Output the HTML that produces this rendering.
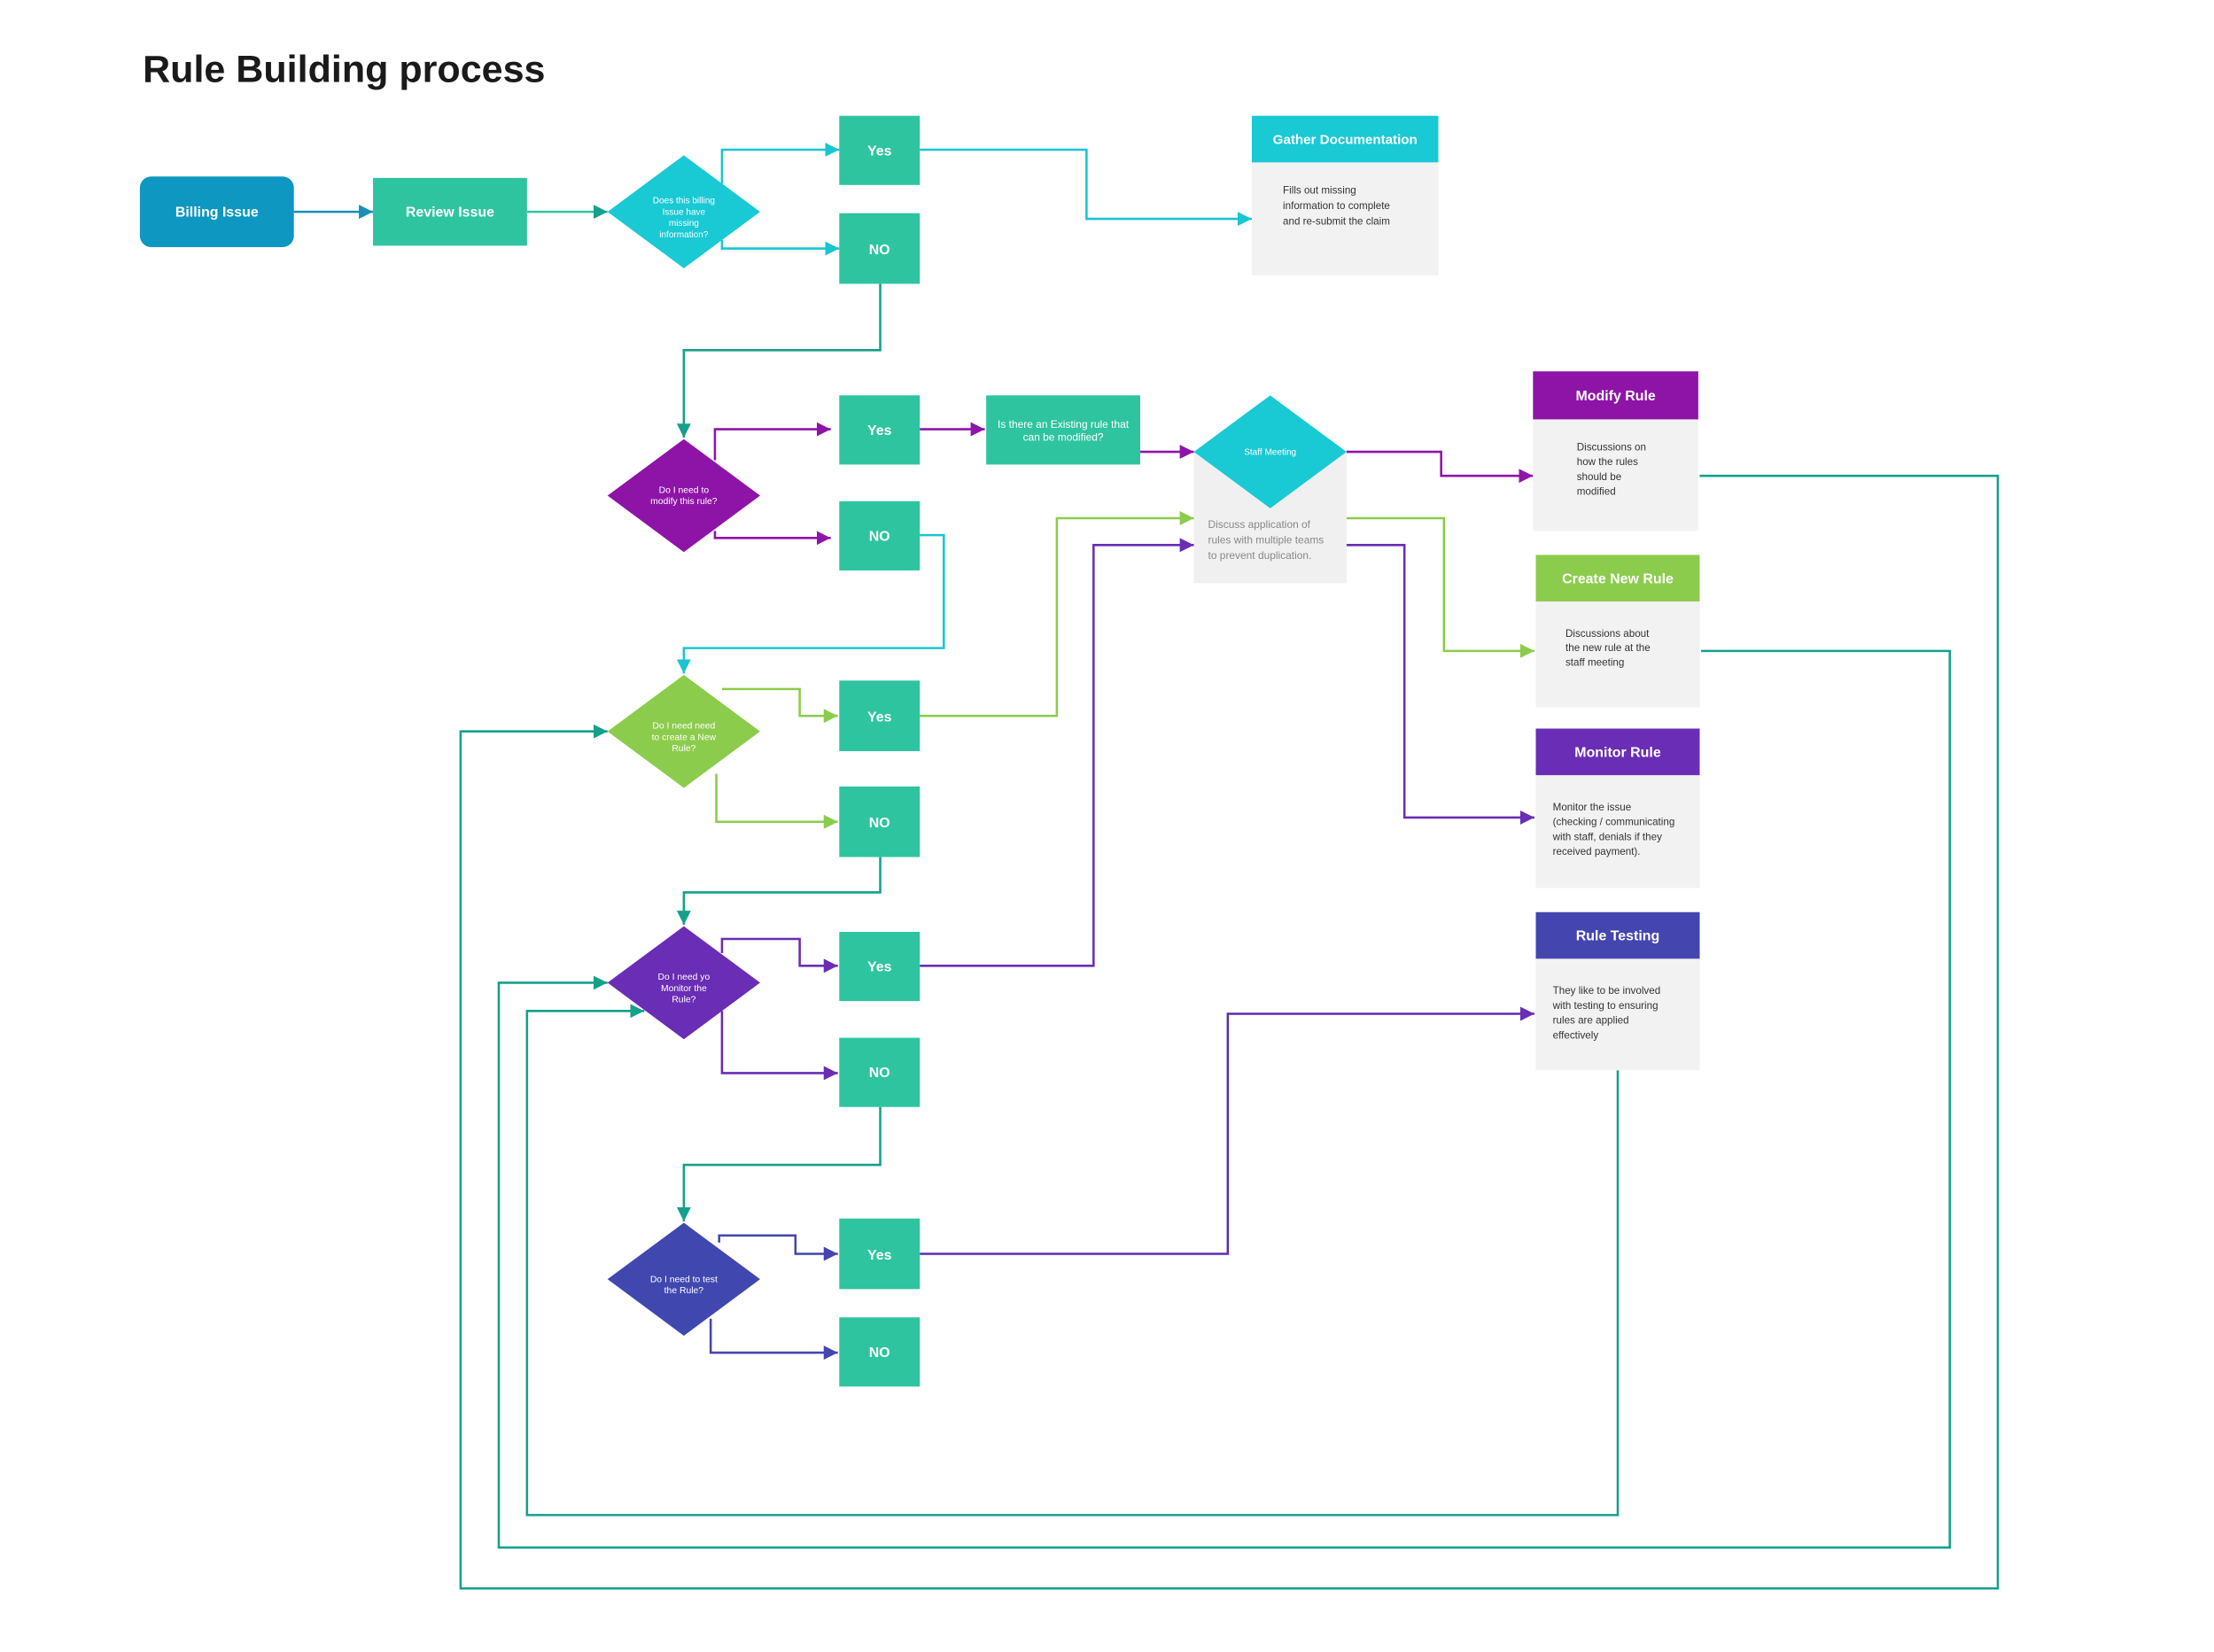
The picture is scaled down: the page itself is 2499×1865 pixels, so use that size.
<!DOCTYPE html>
<html><head><meta charset="utf-8"><style>
html,body{margin:0;padding:0;background:#fff;}
svg{display:block;}
text{font-family:"Liberation Sans",sans-serif;}
</style></head><body>
<svg width="2499" height="1865" viewBox="0 0 1567 1170" preserveAspectRatio="none" xmlns="http://www.w3.org/2000/svg">
<defs>
<marker id="mcy" viewBox="0 0 10 10" refX="10" refY="5" markerWidth="10" markerHeight="11" markerUnits="userSpaceOnUse" orient="auto"><path d="M0,0L10,5L0,10z" fill="#19c5d0"/></marker>
<marker id="mte" viewBox="0 0 10 10" refX="10" refY="5" markerWidth="10" markerHeight="11" markerUnits="userSpaceOnUse" orient="auto"><path d="M0,0L10,5L0,10z" fill="#14a08a"/></marker>
<marker id="mpu" viewBox="0 0 10 10" refX="10" refY="5" markerWidth="10" markerHeight="11" markerUnits="userSpaceOnUse" orient="auto"><path d="M0,0L10,5L0,10z" fill="#8e14a8"/></marker>
<marker id="mgr" viewBox="0 0 10 10" refX="10" refY="5" markerWidth="10" markerHeight="11" markerUnits="userSpaceOnUse" orient="auto"><path d="M0,0L10,5L0,10z" fill="#8ccc4c"/></marker>
<marker id="mvi" viewBox="0 0 10 10" refX="10" refY="5" markerWidth="10" markerHeight="11" markerUnits="userSpaceOnUse" orient="auto"><path d="M0,0L10,5L0,10z" fill="#6a2db5"/></marker>
<marker id="min" viewBox="0 0 10 10" refX="10" refY="5" markerWidth="10" markerHeight="11" markerUnits="userSpaceOnUse" orient="auto"><path d="M0,0L10,5L0,10z" fill="#4545b0"/></marker>
<marker id="mbl" viewBox="0 0 10 10" refX="10" refY="5" markerWidth="10" markerHeight="11" markerUnits="userSpaceOnUse" orient="auto"><path d="M0,0L10,5L0,10z" fill="#1a8fb5"/></marker>
</defs>

<text x="101" y="58" font-size="27" font-weight="bold" fill="#1a1a1a">Rule Building process</text>

<g fill="none" stroke-width="1.6">
<polyline points="208,150 264,150" stroke="#1a8fb5" marker-end="url(#mbl)"/>
<polyline points="373,150 430,150" stroke="#2ec4a0" marker-end="url(#mte)"/>
<polyline points="511,130 511,106 594,106" stroke="#19c5d0" marker-end="url(#mcy)"/>
<polyline points="511,170 511,176 594,176" stroke="#19c5d0" marker-end="url(#mcy)"/>
<polyline points="651,106 769,106 769,155 886,155" stroke="#19c5d0" marker-end="url(#mcy)"/>
<polyline points="623,201 623,248 484,248 484,310" stroke="#14a08a" marker-end="url(#mte)"/>
<polyline points="506,326 506,304 588,304" stroke="#8e14a8" marker-end="url(#mpu)"/>
<polyline points="506,376 506,381 588,381" stroke="#8e14a8" marker-end="url(#mpu)"/>
<polyline points="651,304 697,304" stroke="#8e14a8" marker-end="url(#mpu)"/>
<polyline points="807,320 845,320" stroke="#8e14a8" marker-end="url(#mpu)"/>
<polyline points="953,320 1020,320 1020,337 1085,337" stroke="#8e14a8" marker-end="url(#mpu)"/>
<polyline points="953,367 1022,367 1022,461 1086,461" stroke="#8ccc4c" marker-end="url(#mgr)"/>
<polyline points="953,386 994,386 994,579 1086,579" stroke="#6a2db5" marker-end="url(#mvi)"/>
<polyline points="651,379 668,379 668,459 484,459 484,477" stroke="#19c5d0" marker-end="url(#mcy)"/>
<polyline points="511,488 566,488 566,507 593,507" stroke="#8ccc4c" marker-end="url(#mgr)"/>
<polyline points="507,548 507,582 593,582" stroke="#8ccc4c" marker-end="url(#mgr)"/>
<polyline points="651,507 748,507 748,367 845,367" stroke="#8ccc4c" marker-end="url(#mgr)"/>
<polyline points="623,607 623,632 484,632 484,655" stroke="#14a08a" marker-end="url(#mte)"/>
<polyline points="511,675 511,665 566,665 566,684 593,684" stroke="#6a2db5" marker-end="url(#mvi)"/>
<polyline points="511,716 511,760 593,760" stroke="#6a2db5" marker-end="url(#mvi)"/>
<polyline points="651,684 774,684 774,386 845,386" stroke="#6a2db5" marker-end="url(#mvi)"/>
<polyline points="623,784 623,825 484,825 484,865" stroke="#14a08a" marker-end="url(#mte)"/>
<polyline points="509,880 509,875 563,875 563,888 593,888" stroke="#4545b0" marker-end="url(#min)"/>
<polyline points="503,934 503,958 593,958" stroke="#4545b0" marker-end="url(#min)"/>
<polyline points="651,888 869,888 869,718 1086,718" stroke="#5a2db0" marker-end="url(#mvi)"/>
<polyline points="1203,337 1414,337 1414,1125 326,1125 326,518 430,518" stroke="#14a08a" marker-end="url(#mte)"/>
<polyline points="1204,461 1380,461 1380,1096 353,1096 353,696 430,696" stroke="#14a08a" marker-end="url(#mte)"/>
<polyline points="1145,758 1145,1073 373,1073 373,716 456,716" stroke="#14a08a" marker-end="url(#mte)"/>
</g>

<rect x="99" y="125" width="109" height="50" rx="8" fill="#0e97c0"/>
<text x="153.5" y="153.5" font-size="10" font-weight="bold" fill="#fff" text-anchor="middle">Billing Issue</text>
<rect x="264" y="126" width="109" height="48" fill="#2ec4a0"/>
<text x="318.5" y="153.5" font-size="10" font-weight="bold" fill="#fff" text-anchor="middle">Review Issue</text>

<polygon points="484,110 538,150 484,190 430,150" fill="#19c9d4"/>
<g font-size="6.3" fill="#fff" text-anchor="middle"><text x="484" y="144">Does this billing</text><text x="484" y="152">Issue have</text><text x="484" y="160">missing</text><text x="484" y="168">information?</text></g>

<g fill="#2ec4a0">
<rect x="594" y="82" width="57" height="49"/><rect x="594" y="151" width="57" height="50"/>
<rect x="594" y="280" width="57" height="49"/><rect x="594" y="355" width="57" height="49"/>
<rect x="594" y="482" width="57" height="50"/><rect x="594" y="557" width="57" height="50"/>
<rect x="594" y="660" width="57" height="49"/><rect x="594" y="735" width="57" height="49"/>
<rect x="594" y="863" width="57" height="50"/><rect x="594" y="933" width="57" height="49"/>
<rect x="698" y="280" width="109" height="49"/>
</g>
<g font-size="10" font-weight="bold" fill="#fff" text-anchor="middle">
<text x="622.5" y="110">Yes</text><text x="622.5" y="180">NO</text>
<text x="622.5" y="308">Yes</text><text x="622.5" y="383">NO</text>
<text x="622.5" y="511">Yes</text><text x="622.5" y="586">NO</text>
<text x="622.5" y="688">Yes</text><text x="622.5" y="763">NO</text>
<text x="622.5" y="892">Yes</text><text x="622.5" y="961">NO</text>
</g>
<g font-size="7.5" fill="#fff" text-anchor="middle"><text x="752.5" y="303">Is there an Existing rule that</text><text x="752.5" y="312">can be modified?</text></g>

<rect x="886" y="115" width="132" height="80" fill="#f2f2f2"/>
<rect x="886" y="82" width="132" height="33" fill="#19c9d4"/>
<text x="952" y="102" font-size="9.5" font-weight="bold" fill="#fff" text-anchor="middle">Gather Documentation</text>
<g font-size="7.3" fill="#333"><text x="908" y="137">Fills out missing</text><text x="908" y="148">information to complete</text><text x="908" y="159">and re-submit the claim</text></g>

<polygon points="484,311 538,351 484,391 430,351" fill="#8e14a8"/>
<g font-size="6.5" fill="#fff" text-anchor="middle"><text x="484" y="349">Do I need to</text><text x="484" y="357">modify this rule?</text></g>

<rect x="845" y="320" width="108" height="93" fill="#f0f0f0"/>
<polygon points="899,280 953,320 899,360 845,320" fill="#19c9d4"/>
<text x="899" y="322" font-size="6.3" fill="#fff" text-anchor="middle">Staff Meeting</text>
<g font-size="7.5" fill="#888"><text x="855" y="374">Discuss application of</text><text x="855" y="385">rules with multiple teams</text><text x="855" y="396">to prevent duplication.</text></g>

<polygon points="484,478 538,518 484,558 430,518" fill="#8ccc4c"/>
<g font-size="6.5" fill="#fff" text-anchor="middle"><text x="484" y="516">Do I need need</text><text x="484" y="524">to create a New</text><text x="484" y="532">Rule?</text></g>
<polygon points="484,656 538,696 484,736 430,696" fill="#6a2db5"/>
<g font-size="6.5" fill="#fff" text-anchor="middle"><text x="484" y="694">Do I need yo</text><text x="484" y="702">Monitor the</text><text x="484" y="710">Rule?</text></g>
<polygon points="484,866 538,906 484,946 430,906" fill="#4048b0"/>
<g font-size="6.5" fill="#fff" text-anchor="middle"><text x="484" y="908">Do I need to test</text><text x="484" y="916">the Rule?</text></g>

<rect x="1085" y="297" width="117" height="79" fill="#f2f2f2"/>
<rect x="1085" y="263" width="117" height="34" fill="#8e14a8"/>
<text x="1143.5" y="283.5" font-size="10" font-weight="bold" fill="#fff" text-anchor="middle">Modify Rule</text>
<g font-size="7.3" fill="#333"><text x="1116" y="319">Discussions on</text><text x="1116" y="329.5">how the rules</text><text x="1116" y="340">should be</text><text x="1116" y="350.5">modified</text></g>

<rect x="1087" y="426" width="116" height="75" fill="#f2f2f2"/>
<rect x="1087" y="393" width="116" height="33" fill="#8ccc4c"/>
<text x="1145" y="413" font-size="10" font-weight="bold" fill="#fff" text-anchor="middle">Create New Rule</text>
<g font-size="7.3" fill="#333"><text x="1108" y="451">Discussions about</text><text x="1108" y="461">the new rule at the</text><text x="1108" y="471.5">staff meeting</text></g>

<rect x="1087" y="549" width="116" height="80" fill="#f2f2f2"/>
<rect x="1087" y="516" width="116" height="33" fill="#6a2db5"/>
<text x="1145" y="536" font-size="10" font-weight="bold" fill="#fff" text-anchor="middle">Monitor Rule</text>
<g font-size="7.3" fill="#333"><text x="1099" y="574">Monitor the issue</text><text x="1099" y="584.5">(checking / communicating</text><text x="1099" y="595">with staff, denials if they</text><text x="1099" y="605.5">received payment).</text></g>

<rect x="1087" y="679" width="116" height="79" fill="#f2f2f2"/>
<rect x="1087" y="646" width="116" height="33" fill="#4545b0"/>
<text x="1145" y="666" font-size="10" font-weight="bold" fill="#fff" text-anchor="middle">Rule Testing</text>
<g font-size="7.3" fill="#333"><text x="1099" y="704">They like to be involved</text><text x="1099" y="714.5">with testing to ensuring</text><text x="1099" y="725">rules are applied</text><text x="1099" y="735.5">effectively</text></g>
</svg>
</body></html>
